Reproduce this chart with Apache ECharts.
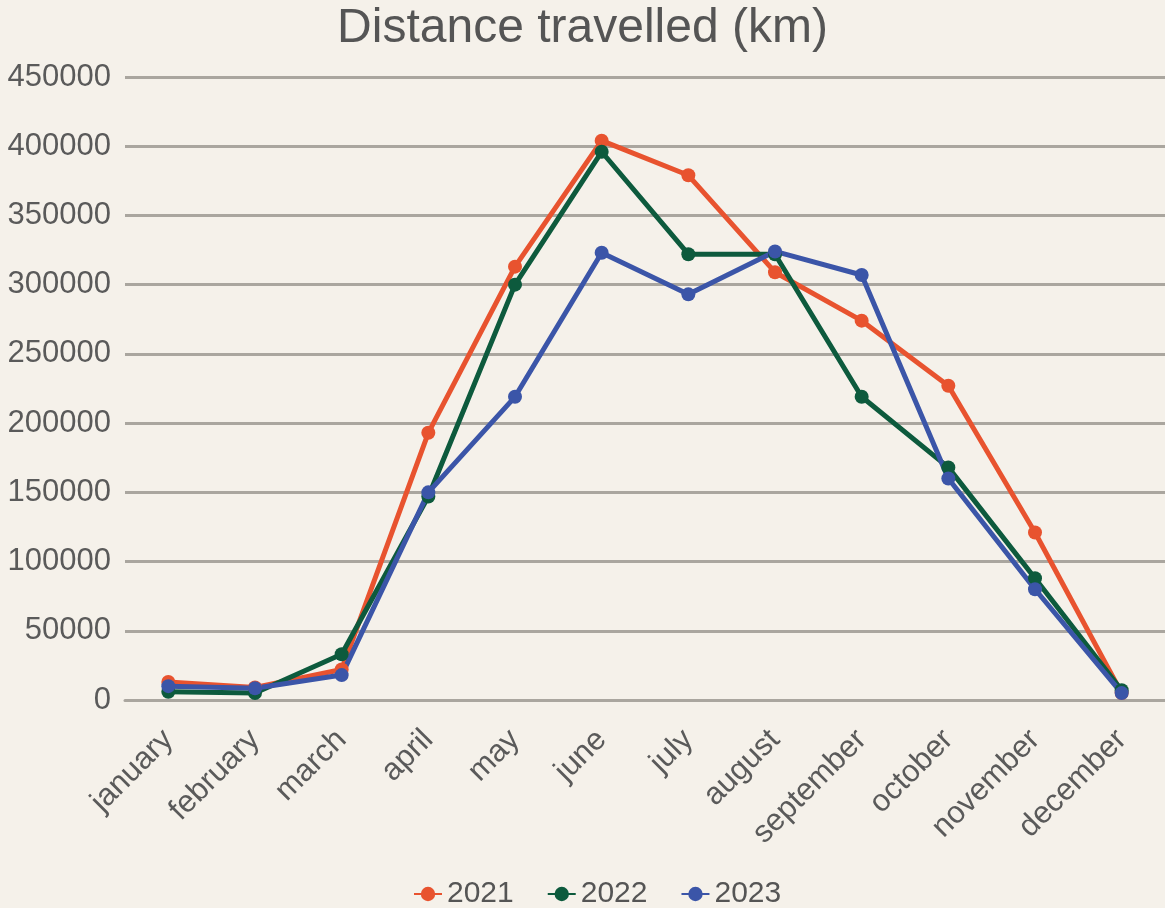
<!DOCTYPE html>
<html>
<head>
<meta charset="utf-8">
<script src="https://cdn.jsdelivr.net/npm/echarts@6/dist/echarts.min.js"></script>
<style>
html,body{margin:0;padding:0;background:#f5f1ea;}
#c{width:1165px;height:908px;}
</style>
</head>
<body>
<div id="c"></div>
<script>
const months = ['january','february','march','april','may','june','july','august','september','october','november','december'];
const y2021 = [13000, 9000, 22000, 193000, 313000, 404000, 379000, 309000, 274000, 227000, 121000, 5000];
const y2022 = [6000, 5000, 33000, 147000, 300000, 396000, 322000, 322000, 219000, 168000, 88000, 7000];
const y2023 = [10000, 8500, 18000, 150000, 219000, 323000, 293000, 324000, 307000, 160000, 80000, 5000];
const seriesNames = ['2021','2022','2023'];
const colors = ['#e8532f','#0d5a3d','#3b55a8'];

const chart = echarts.init(document.getElementById('c'));
const font = 'Liberation Sans, Arial, sans-serif';
function mk(name, data, color){
  return {
    name: name, type: 'line', data: data,
    symbol: 'circle', symbolSize: 14,
    lineStyle: {width: 5, color: color},
    itemStyle: {color: color},
    animation: false
  };
}
chart.setOption({
  backgroundColor: '#f5f1ea',
  animation: false,
  color: colors,
  title: {
    text: 'Distance travelled (km)',
    left: 'center', top: 0,
    textStyle: {fontFamily: font, fontSize: 48, fontWeight: 'normal', color: '#555555'}
  },
  legend: {
    left: 408, bottom: -6,
    itemWidth: 28, itemHeight: 18, itemGap: 33,
    textStyle: {fontFamily: font, fontSize: 30, color: '#555555'},
    data: seriesNames
  },
  grid: {left: 125, right: 0, top: 77, bottom: 208, containLabel: false},
  xAxis: {
    type: 'category', data: months, boundaryGap: true,
    axisLine: {lineStyle: {color: '#aaa69f', width: 3}},
    axisTick: {show: false},
    axisLabel: {rotate: 45, margin: 35, fontFamily: font, fontSize: 31, color: '#5a5a5a'}
  },
  yAxis: {
    type: 'value', min: 0, max: 450000, interval: 50000,
    axisLine: {show: false}, axisTick: {show: false},
    splitLine: {lineStyle: {color: '#aaa69f', width: 3}},
    axisLabel: {margin: 14, fontFamily: font, fontSize: 31, color: '#5a5a5a', formatter: function(v){ return String(v); }}
  },
  series: [
    mk(seriesNames[0], y2021, colors[0]),
    mk(seriesNames[1], y2022, colors[1]),
    mk(seriesNames[2], y2023, colors[2])
  ]
});
</script>
</body>
</html>
